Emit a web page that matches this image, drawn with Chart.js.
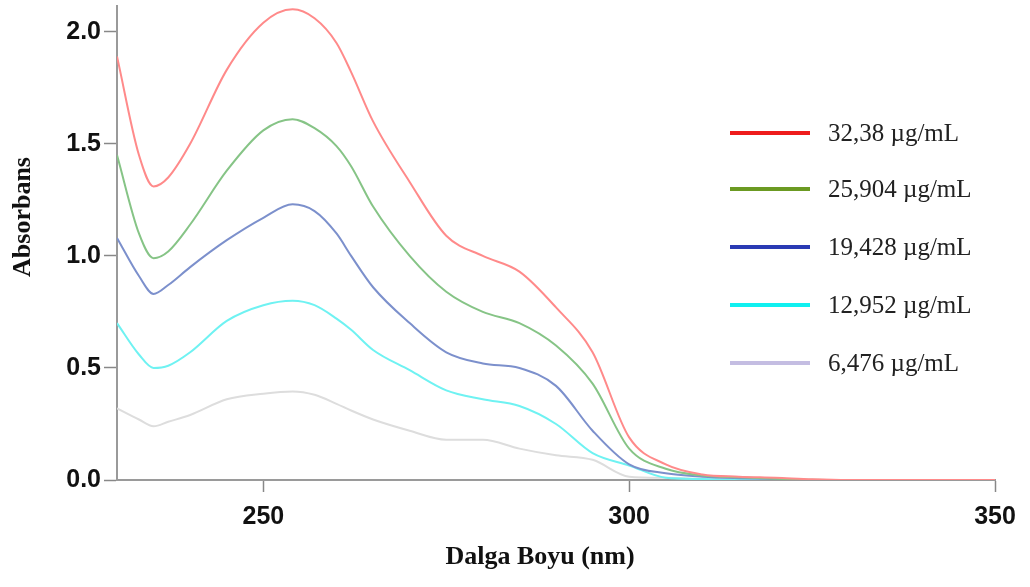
<!DOCTYPE html>
<html lang="tr">
<head>
<meta charset="UTF-8">
<title>Absorbans spektrumu</title>
<script src="https://cdn.jsdelivr.net/npm/chart.js"></script>
<style>
    body { margin: 0; background: #fff; }
    .wrap { position: relative; width: 1030px; height: 587px; }
</style>
</head>
<body>
<div class="wrap"><canvas id="chart" width="1030" height="587"></canvas></div>
<script>
    // dalga boyu (nm)
    const wavelengths = [230, 233, 235, 237, 240, 245, 250, 254, 257, 260, 262, 265, 270, 275, 280, 285, 290, 295, 300, 305, 310, 315, 320, 325, 330, 340, 350];

    const abs3238 = [1.89, 1.45, 1.31, 1.35, 1.50, 1.83, 2.04, 2.10, 2.06, 1.95, 1.82, 1.60, 1.33, 1.09, 1.00, 0.93, 0.77, 0.57, 0.19, 0.07, 0.025, 0.015, 0.01, 0.003, 0, 0, 0];
    const abs25904 = [1.45, 1.10, 0.99, 1.02, 1.14, 1.38, 1.56, 1.61, 1.57, 1.49, 1.40, 1.22, 1.00, 0.84, 0.75, 0.70, 0.60, 0.43, 0.14, 0.05, 0.02, 0.012, 0.006, 0.001, 0, 0, 0];
    const abs19428 = [1.08, 0.91, 0.83, 0.87, 0.95, 1.07, 1.17, 1.23, 1.20, 1.10, 1.00, 0.86, 0.70, 0.57, 0.52, 0.50, 0.42, 0.22, 0.07, 0.03, 0.015, 0.008, 0.004, 0, 0, 0, 0];
    const abs12952 = [0.70, 0.56, 0.50, 0.51, 0.57, 0.71, 0.78, 0.80, 0.78, 0.72, 0.67, 0.58, 0.49, 0.40, 0.36, 0.33, 0.25, 0.12, 0.065, 0.01, 0.004, 0.002, 0, 0, 0, 0, 0];
    const abs6476 = [0.32, 0.27, 0.24, 0.26, 0.29, 0.36, 0.385, 0.395, 0.38, 0.34, 0.31, 0.27, 0.22, 0.18, 0.18, 0.14, 0.11, 0.09, 0.015, 0.01, 0.005, 0.002, 0, 0, 0, 0, 0];

    const seriesLabels = ['32,38 µg/mL', '25,904 µg/mL', '19,428 µg/mL', '12,952 µg/mL', '6,476 µg/mL'];
    const xTicks = [250, 300, 350];
    const yTicks = [0, 0.5, 1.0, 1.5, 2.0];

    const lineColors = ['#ff8a8a', '#86c486', '#7c90cc', '#6ff2f2', '#dddddd'];
    const legendColors = ['#ee1c1c', '#6b9a22', '#2a3ab4', '#10f0f0', '#c4bde2'];

    function toPoints(values) {
        return wavelengths.map((w, i) => ({ x: w, y: values[i] }));
    }

    const allSeries = [abs3238, abs25904, abs19428, abs12952, abs6476];

    // legend + axis titles drawn by hand (legend sits inside the plot)
    const decorPlugin = {
        id: 'decor',
        afterDraw(chart) {
            const ctx = chart.ctx;
            ctx.save();
            // legend
            const rowY = [133, 189, 247, 305, 363];
            ctx.font = '25px "Liberation Serif"';
            ctx.textBaseline = 'middle';
            ctx.textAlign = 'left';
            seriesLabels.forEach((lbl, i) => {
                ctx.strokeStyle = legendColors[i];
                ctx.lineWidth = 4;
                ctx.beginPath();
                ctx.moveTo(730, rowY[i]);
                ctx.lineTo(810, rowY[i]);
                ctx.stroke();
                ctx.fillStyle = '#222';
                ctx.fillText(lbl, 828, rowY[i] + 1);
            });
            // axis titles
            ctx.fillStyle = '#111';
            ctx.font = 'bold 26px "Liberation Serif"';
            ctx.textAlign = 'center';
            ctx.fillText('Dalga Boyu (nm)', 540, 557);
            ctx.translate(23, 217);
            ctx.rotate(-Math.PI / 2);
            ctx.fillText('Absorbans', 0, 0);
            ctx.restore();
        }
    };

    const ctx = document.getElementById('chart').getContext('2d');
    new Chart(ctx, {
        type: 'line',
        data: {
            datasets: allSeries.map((vals, i) => ({
                label: seriesLabels[i],
                data: toPoints(vals),
                borderColor: lineColors[i],
                borderWidth: 2,
                pointRadius: 0,
                fill: false,
                cubicInterpolationMode: 'monotone',
                order: i
            }))
        },
        options: {
            responsive: false,
            animation: false,
            layout: { padding: { left: 0, right: 35, top: 6, bottom: 0 } },
            plugins: {
                legend: { display: false },
                tooltip: { enabled: false }
            },
            scales: {
                x: {
                    type: 'linear',
                    min: 230,
                    max: 350,
                    afterBuildTicks: s => { s.ticks = xTicks.map(v => ({ value: v })); },
                    afterFit: s => { s.height = 107; s.paddingRight = 0; s.paddingLeft = 0; },
                    border: { color: '#9a9a9a', width: 2 },
                    grid: { drawOnChartArea: false, drawTicks: true, tickLength: 12, tickColor: '#888', tickWidth: 1.5 },
                    ticks: {
                        color: '#111',
                        padding: 10,
                        maxRotation: 0,
                        font: { family: '"Liberation Sans"', size: 25, weight: 'bold' }
                    }
                },
                y: {
                    min: 0,
                    max: 2.115,
                    afterBuildTicks: s => { s.ticks = yTicks.map(v => ({ value: v })); },
                    afterFit: s => { s.width = 117; s.paddingTop = 0; s.paddingBottom = 0; },
                    border: { color: '#9a9a9a', width: 2 },
                    grid: { drawOnChartArea: false, drawTicks: true, tickLength: 13, tickColor: '#888', tickWidth: 1.5 },
                    ticks: {
                        color: '#111',
                        padding: 3,
                        callback: v => v.toFixed(1),
                        font: { family: '"Liberation Sans"', size: 25, weight: 'bold' }
                    }
                }
            }
        },
        plugins: [decorPlugin]
    });
</script>
</body>
</html>
